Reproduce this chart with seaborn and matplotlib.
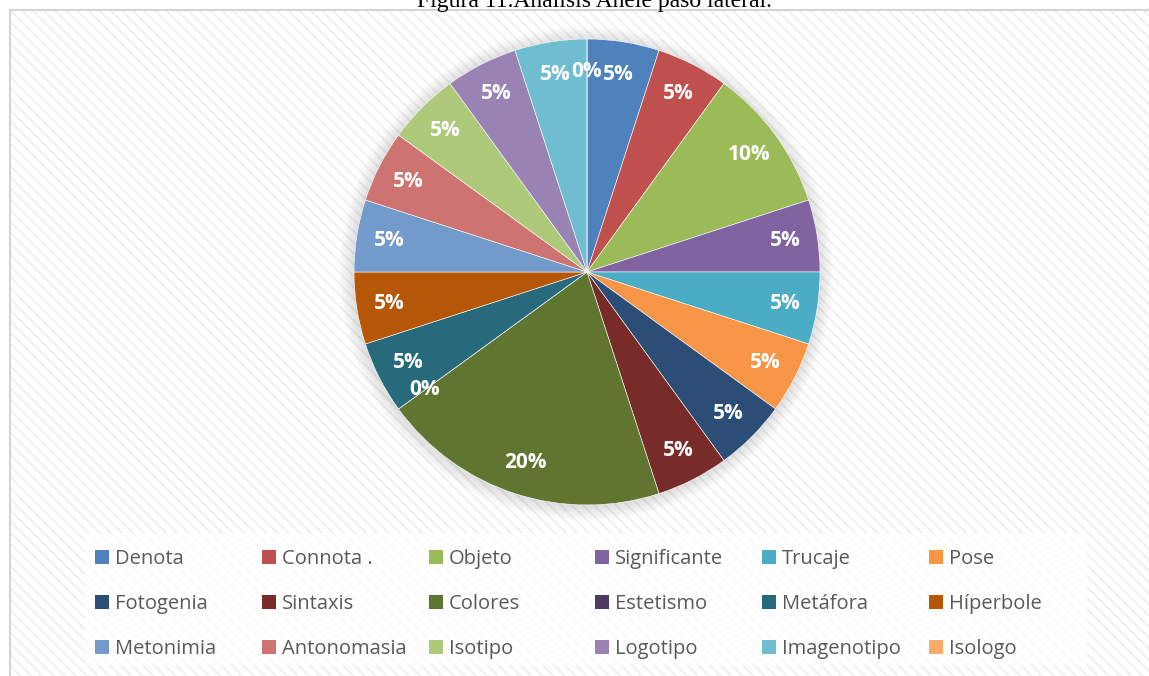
import matplotlib
matplotlib.use("Agg")
import matplotlib.pyplot as plt
from matplotlib.patches import Rectangle, Patch, Circle
import seaborn as sns

# Categories and their shares (%)
categories = ["Denota", "Connota .", "Objeto", "Significante", "Trucaje", "Pose",
              "Fotogenia", "Sintaxis", "Colores", "Estetismo", "Metáfora", "Híperbole",
              "Metonimia", "Antonomasia", "Isotipo", "Logotipo", "Imagenotipo", "Isologo"]
values = [5, 5, 10, 5, 5, 5,
          5, 5, 20, 0, 5, 5,
          5, 5, 5, 5, 5, 0]
palette_hex = ["#4F81BD", "#C0504D", "#9BBB59", "#8064A2", "#4BACC6", "#F79646",
               "#2C4D75", "#772C2A", "#5F7530", "#4D3B62", "#276A7C", "#B65708",
               "#729ACA", "#CD7371", "#AFC97A", "#9983B5", "#6FBDD1", "#F9AB6B"]
title = "Figura 11.Análisis Anele paso lateral."

sns.set_style("white")
plt.rcParams["font.family"] = ["Open Sans", "DejaVu Sans"]
plt.rcParams["hatch.linewidth"] = 1.6
plt.rcParams["hatch.color"] = "#f1f1f1"

colors = sns.color_palette(palette_hex)

W, H = 1149, 676
fig = plt.figure(figsize=(W / 100, H / 100), dpi=100)
fig.patch.set_facecolor("white")

# Striped chart-area background and its border
fig.patches.append(Rectangle((10 / W, 0), 1.0, 1 - 10 / H, transform=fig.transFigure,
                             facecolor="white", edgecolor="#f1f1f1", linewidth=0,
                             hatch="\\\\\\", zorder=0))
fig.patches.append(Rectangle((10 / W, -0.01), 1.0, 1 - 10 / H + 0.01, transform=fig.transFigure,
                             facecolor="none", edgecolor="#d4d4d4", linewidth=1.5, zorder=1))

# Legend panel
fig.patches.append(Rectangle((85 / W, 1 - 665 / H), 1002 / W, 132 / H, transform=fig.transFigure,
                             facecolor="white", edgecolor="none", alpha=0.75, zorder=1))

fig.text(594 / W, 1 - 7 / H, title, ha="center", va="baseline",
         family=["Liberation Serif"], fontsize=17, color="black")

# Pie axes
cx, cy, r = 587, 272, 233
L = 1.12
side = 2 * L * r
ax = fig.add_axes([(cx - L * r) / W, (H - cy - L * r) / H, side / W, side / H])
ax.set_zorder(2)
ax.patch.set_alpha(0)

# soft shadow behind the pie
for k in range(10):
    rad = 1.0 + 0.006 * (k + 1)
    ax.add_patch(Circle((-0.003, -0.006), rad, facecolor="black", edgecolor="none",
                        alpha=0.013, zorder=0))

wedges, texts, autotexts = ax.pie(
    values, colors=colors, startangle=90, counterclock=False,
    autopct=lambda p: f"{p:.0f}%", pctdistance=0.86, radius=1.0,
    wedgeprops=dict(edgecolor="white", linewidth=0.4, zorder=1),
    textprops=dict(color="white", fontsize=15, fontweight="bold"))
for w in wedges:
    w.set_zorder(1)
for t in autotexts:
    t.set_zorder(3)
ax.set_xlim(-L, L)
ax.set_ylim(-L, L)
ax.set_aspect("equal")
ax.axis("off")

# Legend: six columns of three entries, filled row by row
col_x = [95, 262, 429, 595, 762, 929]
row_mid = 604
for j, x in enumerate(col_x):
    idx = [j, j + 6, j + 12]
    handles = [Patch(facecolor=colors[i], edgecolor="none") for i in idx]
    labels = [categories[i] for i in idx]
    leg = fig.legend(handles, labels, loc="center left",
                     bbox_to_anchor=(x / W, 1 - row_mid / H),
                     frameon=False, borderpad=0, borderaxespad=0,
                     handlelength=0.7, handleheight=0.7, handletextpad=0.3,
                     labelspacing=1.25, fontsize=14.5)
    for t in leg.get_texts():
        t.set_color("#595959")

fig.savefig("out.png", dpi=100, facecolor="white")
